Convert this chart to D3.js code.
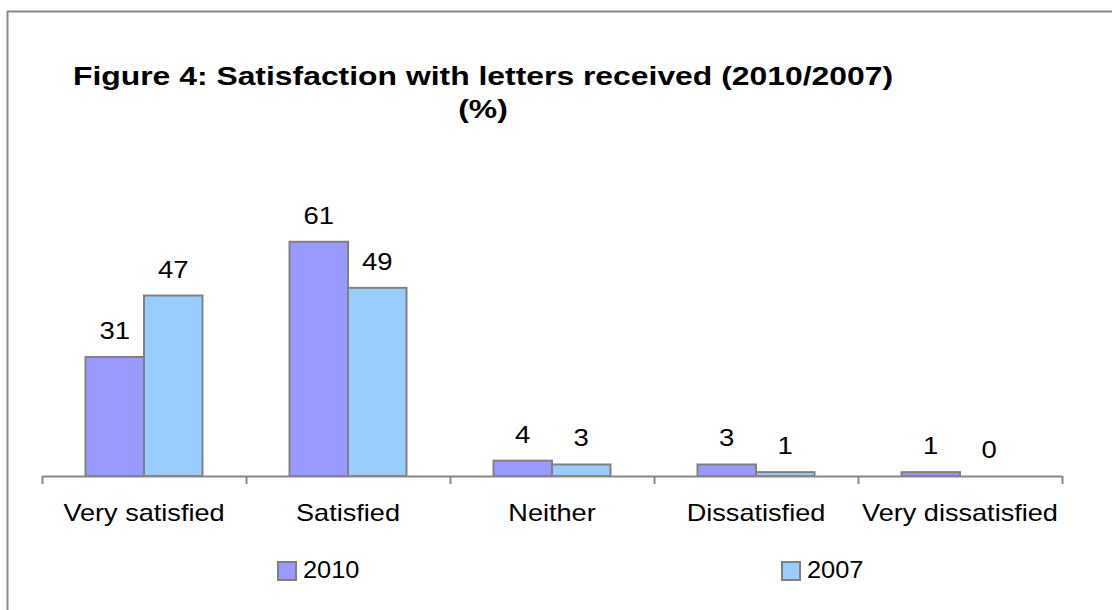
<!DOCTYPE html>
<html>
<head>
<meta charset="utf-8">
<script src="https://cdn.jsdelivr.net/npm/d3@7"></script>
<style>
  body { margin: 0; background: #fff; }
  text { font-family: "Liberation Sans", Arial, sans-serif; fill: #000; }
</style>
</head>
<body>
<div id="chart"></div>
<script>
// Data
var categories = ["Very satisfied", "Satisfied", "Neither", "Dissatisfied", "Very dissatisfied"];
var seriesNames = ["2010", "2007"];
var values2010 = [31, 61, 4, 3, 1];
var values2007 = [47, 49, 3, 1, 0];
var titleLines = ["Figure 4: Satisfaction with letters received (2010/2007)", "(%)"];

var colors = { "2010": "#9999ff", "2007": "#99ccff" };

// Chart setup
var svgWidth = 1112;
var svgHeight = 610;

var svg = d3.select("#chart").append("svg")
    .attr("width", svgWidth)
    .attr("height", svgHeight);

// outer frame (runs off the right and bottom edges)
svg.append("rect")
    .attr("x", 7.5)
    .attr("y", 11.5)
    .attr("width", 1200)
    .attr("height", 700)
    .attr("fill", "#fff")
    .attr("stroke", "#888")
    .attr("stroke-width", 2);

// text in the original is drawn a bit wider than Arial, so stretch it horizontally
function wideText(sel, sx) {
    return sel.attr("transform", function() {
        var x = +d3.select(this).attr("data-x");
        var y = +d3.select(this).attr("data-y");
        return `translate(${x}, ${y}) scale(${sx}, 1)`;
    });
}

// Title
svg.selectAll(".title")
    .data(titleLines)
    .enter()
    .append("text")
    .attr("class", "title")
    .attr("data-x", 483)
    .attr("data-y", (d, i) => 85 + i * 33)
    .attr("text-anchor", "middle")
    .attr("font-size", "25.5px")
    .attr("font-weight", "bold")
    .text(d => d)
    .call(wideText, 1.25);

// Scales
var x0 = d3.scaleBand()
    .domain(categories)
    .range([42, 1062])
    .padding(0);

var x1 = d3.scaleBand()
    .domain(seriesNames)
    .range([0, x0.bandwidth()])
    .paddingInner(0)
    .paddingOuter(0.744);

var yScale = d3.scaleLinear()
    .domain([0, 70])
    .range([476, 207.2]);

var data = categories.map(function(c, i) {
    return { cat: c, vals: [
        { key: "2010", value: values2010[i] },
        { key: "2007", value: values2007[i] }
    ]};
});

// Bars
var groups = svg.selectAll(".grp")
    .data(data)
    .enter()
    .append("g")
    .attr("class", "grp")
    .attr("transform", d => `translate(${x0(d.cat)}, 0)`);

groups.selectAll("rect")
    .data(d => d.vals.filter(v => v.value > 0))
    .enter()
    .append("rect")
    .attr("x", d => x1(d.key))
    .attr("y", d => yScale(d.value))
    .attr("width", x1.bandwidth())
    .attr("height", d => yScale(0) - yScale(d.value))
    .attr("fill", d => colors[d.key])
    .attr("stroke", "#808080")
    .attr("stroke-width", 2);

// Value labels
groups.selectAll(".lbl")
    .data(d => d.vals)
    .enter()
    .append("text")
    .attr("class", "lbl")
    .attr("data-x", d => x1(d.key) + x1.bandwidth() / 2)
    .attr("data-y", d => yScale(d.value) - 18)
    .attr("text-anchor", "middle")
    .attr("font-size", "23.5px")
    .text(d => d.value)
    .call(wideText, 1.17);

// Axis with ticks at category boundaries
var tickScale = d3.scaleLinear()
    .domain([0, categories.length])
    .range([42, 1062]);

var axis = svg.append("g")
    .attr("transform", "translate(0, 476)")
    .call(d3.axisBottom(tickScale)
        .ticks(categories.length)
        .tickFormat("")
        .tickSize(8)
        .tickSizeOuter(0));

axis.selectAll("path, line")
    .attr("stroke", "#888")
    .attr("stroke-width", 2);

// Category labels
svg.selectAll(".cat")
    .data(categories)
    .enter()
    .append("text")
    .attr("class", "cat")
    .attr("data-x", d => x0(d) + x0.bandwidth() / 2)
    .attr("data-y", 521)
    .attr("text-anchor", "middle")
    .attr("font-size", "24px")
    .text(d => d)
    .call(wideText, 1.13);

// Legend
var legendX = [278, 782];
var legend = svg.selectAll(".leg")
    .data(seriesNames)
    .enter()
    .append("g")
    .attr("class", "leg")
    .attr("transform", (d, i) => `translate(${legendX[i]}, 562)`);

legend.append("rect")
    .attr("width", 18)
    .attr("height", 18)
    .attr("fill", d => colors[d])
    .attr("stroke", "#808080")
    .attr("stroke-width", 2);

legend.append("text")
    .attr("data-x", 25)
    .attr("data-y", 16)
    .attr("font-size", "23.5px")
    .text(d => d)
    .call(wideText, 1.08);
</script>
</body>
</html>
